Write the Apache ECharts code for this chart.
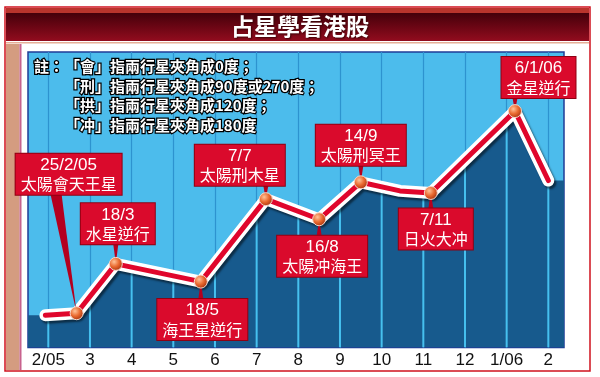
<!DOCTYPE html>
<html>
<head>
<meta charset="utf-8">
<script src="https://cdn.jsdelivr.net/npm/echarts@6/dist/echarts.min.js"></script>
<style>
  html, body { margin: 0; padding: 0; background: #fff; }
  #chart { width: 600px; height: 377px; }
</style>
</head>
<body>
<div id="chart"></div>
<script>
// 月份刻度
const monthTicks = [0, 1, 2, 3, 4, 5, 6, 7, 8, 9, 10, 11, 12];
const monthLabels = ['2/05', '3', '4', '5', '6', '7', '8', '9', '10', '11', '12', '1/06', '2'];
// 走勢 (x: 月份位置, y: 相對高度)
const pointX = [-0.07, 0.68, 1.62, 3.66, 5.22, 6.50, 7.50, 8.44, 9.18, 11.20, 12.0];
const pointY = [10.9, 11.6, 28.3, 22.3, 50.2, 43.4, 55.9, 53.0, 52.3, 80.0, 56.5];
// 星象事件
const eventDates = ['', '25/2/05', '18/3', '18/5', '7/7', '16/8', '14/9', '', '7/11', '6/1/06', ''];
const eventNames = ['', '太陽會天王星', '水星逆行', '海王星逆行', '太陽刑木星', '太陽冲海王', '太陽刑冥王', '', '日火大冲', '金星逆行', ''];
const noteLines = [
  '「會」指兩行星夾角成0度；',
  '「刑」指兩行星夾角成90度或270度；',
  '「拱」指兩行星夾角成120度；',
  '「冲」指兩行星夾角成180度'
];

const xMin = -0.487, xMax = 12.376;
// 標籤框相對位置 / 指針底部
const calloutOffset = [null, [-8, -139], [2, -40], [1.5, 38], [-26, -34], [3, 37], [0, -37], null, [5, 36], [23.5, -33.5], null];
const pointerBase = [null, [-12.5, 11], null, null, null, null, null, null, null, null, null];
const boxHalfH = 20.5;

const chart = echarts.init(document.getElementById('chart'));

const linePts = pointX.map((x, i) => [x, pointY[i]]);
const areaPts = [[xMin, pointY[0]]].concat(linePts, [[xMax, pointY[pointY.length - 1]]]);
const eventIdx = eventDates.map((d, i) => (d ? i : -1)).filter(i => i >= 0);

const eventData = linePts.map((p, i) => {
  if (!eventDates[i]) {
    return { value: p, symbol: 'none', label: { show: false } };
  }
  return {
    value: p,
    label: { show: true, offset: calloutOffset[i] }
  };
});

// 深色區域內的淺色月份線（以走勢面積裁切）
function renderDarkGrid(params, api) {
  const cs = params.coordSys;
  const poly = areaPts.map(p => api.coord(p));
  poly.push(api.coord([xMax, 0]), api.coord([xMin, 0]));
  const lines = monthTicks.map(m => {
    const px = api.coord([m, 0])[0];
    return {
      type: 'rect',
      shape: { x: px - 1, y: cs.y, width: 2, height: cs.height },
      style: { fill: '#46c0ef' }
    };
  });
  return {
    type: 'group',
    children: lines,
    clipPath: { type: 'polygon', shape: { points: poly } }
  };
}

// 標籤框指向數據點的指針
function renderPointer(params, api) {
  const i = eventIdx[params.dataIndex];
  const pt = api.coord(linePts[i]);
  const off = calloutOffset[i];
  const bx = pt[0] + off[0];
  const edgeY = pt[1] + off[1] + (off[1] < 0 ? boxHalfH : -boxHalfH);
  let cx = pt[0], w = 5;
  if (pointerBase[i]) {
    cx = bx + pointerBase[i][0];
    w = pointerBase[i][1];
  }
  return {
    type: 'polygon',
    shape: { points: [[cx - w / 2, edgeY], [cx + w / 2, edgeY], pt] },
    style: { fill: '#b4001e' }
  };
}

const noteFont = 'bold 15px "Noto Sans CJK TC"';

const option = {
  animation: false,
  title: {
    text: '占星學看港股',
    left: 'center',
    top: 15,
    padding: 0,
    textStyle: {
      color: '#fff',
      fontSize: 23,
      fontWeight: 'bold',
      fontFamily: 'Noto Sans CJK TC',
      textShadowColor: 'rgba(40,0,0,0.8)',
      textShadowBlur: 2,
      textShadowOffsetX: 1,
      textShadowOffsetY: 1
    }
  },
  graphic: [
    { type: 'rect', z: -10, shape: { x: 5, y: 7, width: 585, height: 364 },
      style: { fill: '#fff', stroke: '#d0121e', lineWidth: 1.5 } },
    { type: 'rect', z: -9, shape: { x: 6, y: 8, width: 583, height: 5 }, style: { fill: '#b9342c' } },
    { type: 'rect', z: -9, shape: { x: 6, y: 13, width: 583, height: 28 },
      style: { fill: new echarts.graphic.LinearGradient(0, 0, 0, 1, [
        { offset: 0, color: '#45000a' }, { offset: 1, color: '#920c1e' }]) } },
    { type: 'rect', z: -9, shape: { x: 6, y: 42, width: 583, height: 1.5 }, style: { fill: '#e6ae96' } },
    { type: 'rect', z: -9, shape: { x: 6, y: 44, width: 13.5, height: 326 }, style: { fill: '#d49c80' } },
    { type: 'rect', z: -9, shape: { x: 19.5, y: 44, width: 2, height: 326 }, style: { fill: '#c8628e' } },
    { type: 'text', z: 20, x: 34, y: 57,
      style: { text: '註：', fill: '#fff', stroke: '#000', lineWidth: 2.5, lineHeight: 19.5,
        strokeFirst: true, font: noteFont, verticalAlign: 'top' } },
    { type: 'text', z: 20, x: 65, y: 57,
      style: { text: noteLines.join('\n'), fill: '#fff', stroke: '#000', lineWidth: 2.5, lineHeight: 19.5,
        strokeFirst: true, font: noteFont, verticalAlign: 'top' } }
  ],
  grid: {
    left: 28, right: 36, top: 52, bottom: 29.5,
    show: true,
    backgroundColor: '#4cbcec',
    borderColor: '#1f3d96',
    borderWidth: 1.5
  },
  xAxis: {
    type: 'value',
    min: xMin,
    max: xMax,
    axisLine: { show: false },
    axisTick: { show: false, customValues: monthTicks },
    axisLabel: {
      customValues: monthTicks,
      formatter: v => monthLabels[Math.round(v)],
      color: '#111',
      fontSize: 17,
      fontFamily: 'Liberation Sans',
      margin: 4
    },
    splitLine: { show: true, lineStyle: { color: '#2d93cf', width: 1.2 } }
  },
  yAxis: {
    type: 'value',
    min: 0,
    max: 100,
    show: false,
    splitLine: { show: false }
  },
  series: [
    {
      type: 'line',
      data: areaPts,
      symbol: 'none',
      lineStyle: { width: 0 },
      areaStyle: { color: '#175a8d', opacity: 1 },
      z: 2,
      silent: true
    },
    {
      type: 'custom',
      data: [[0, 0]],
      renderItem: renderDarkGrid,
      z: 3,
      silent: true
    },
    {
      type: 'line',
      data: linePts,
      symbol: 'none',
      lineStyle: {
        color: '#fff', width: 12, cap: 'round', join: 'round',
        shadowColor: 'rgba(0,0,0,0.5)', shadowBlur: 2, shadowOffsetX: 2, shadowOffsetY: 2.5
      },
      z: 4,
      silent: true
    },
    {
      type: 'custom',
      data: eventIdx.map(i => linePts[i]),
      renderItem: renderPointer,
      z: 5,
      silent: true
    },
    {
      type: 'line',
      data: eventData,
      symbol: 'circle',
      symbolSize: 13,
      showAllSymbol: true,
      lineStyle: { color: '#e0062c', width: 5, cap: 'round', join: 'round' },
      itemStyle: {
        color: {
          type: 'radial', x: 0.38, y: 0.35, r: 0.7,
          colorStops: [
            { offset: 0, color: '#ffc49a' },
            { offset: 0.5, color: '#ea6a30' },
            { offset: 1, color: '#a3300c' }
          ]
        },
        borderColor: '#f3d8cc',
        borderWidth: 1
      },
      label: {
        show: true,
        position: 'inside',
        formatter: p => '{d|' + eventDates[p.dataIndex] + '}\n{c|' + eventNames[p.dataIndex] + '}',
        backgroundColor: '#da0a2c',
        borderColor: '#8e0012',
        borderWidth: 1,
        padding: [2, 5, 1, 5],
        align: 'center',
        rich: {
          d: { color: '#fff', fontSize: 17, lineHeight: 19, fontFamily: 'Liberation Sans', align: 'center' },
          c: { color: '#fff', fontSize: 16, lineHeight: 19, fontFamily: 'Noto Sans CJK TC', align: 'center' }
        }
      },
      z: 6
    }
  ]
};

chart.setOption(option);
</script>
</body>
</html>
